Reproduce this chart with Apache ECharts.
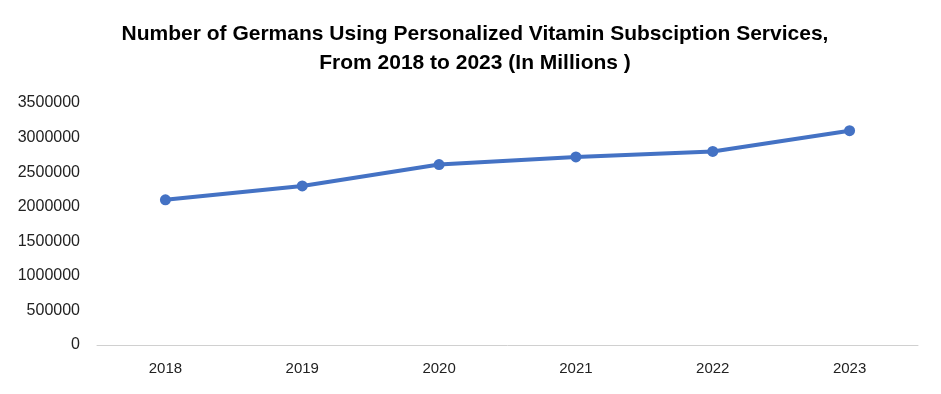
<!DOCTYPE html>
<html><head><meta charset="utf-8">
<script src="https://cdn.jsdelivr.net/npm/echarts@6/dist/echarts.min.js"></script>
<style>html,body{margin:0;padding:0;background:#fff}#c{width:941px;height:394px}</style>
</head><body><div id="c"></div>
<script>
const categories = ['2018','2019','2020','2021','2022','2023'];
const users = [2100000, 2300000, 2610000, 2720000, 2800000, 3100000];
const titleText = 'Number of Germans Using Personalized Vitamin Subsciption Services,\nFrom 2018 to 2023 (In Millions )';

const chart = echarts.init(document.getElementById('c'));
chart.setOption({
  backgroundColor: '#fff',
  animation: false,
  title: {
    text: titleText,
    left: 470, top: 15, textAlign: 'center',
    textStyle: { fontFamily: 'Liberation Sans', fontWeight: 'bold', fontSize: 21, color: '#000', lineHeight: 29 }
  },
  grid: { left: 97, right: 23, top: 103, bottom: 49 },
  xAxis: {
    type: 'category', data: categories, boundaryGap: true,
    axisLine: { lineStyle: { color: '#d0d0d0', width: 1 } },
    axisTick: { show: false },
    axisLabel: { color: '#222', fontSize: 15, margin: 16, fontFamily: 'Liberation Sans' }
  },
  yAxis: {
    type: 'value', min: 0, max: 3500000, interval: 500000,
    splitLine: { show: false },
    axisLine: { show: false }, axisTick: { show: false },
    axisLabel: { color: '#222', fontSize: 16, margin: 17, fontFamily: 'Liberation Sans', formatter: v => String(v) }
  },
  series: [{
    type: 'line', data: users,
    lineStyle: { color: '#4472C4', width: 4 },
    itemStyle: { color: '#4472C4' },
    symbol: 'circle', symbolSize: 11
  }]
});
</script></body></html>
